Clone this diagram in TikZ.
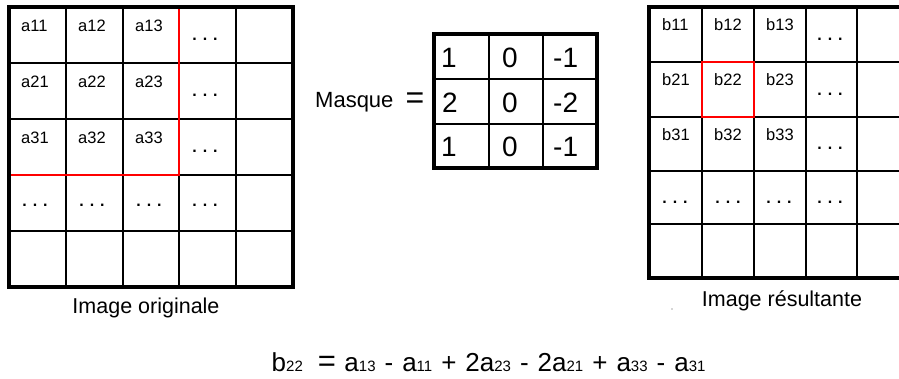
\documentclass[tikz,border=0pt]{standalone}
\usepackage{fontspec}
\setmainfont{Liberation Sans}
\newcommand\sbs[1]{{\fontsize{15}{17}\selectfont #1}}
\begin{document}
\begin{tikzpicture}[x=1pt,y=-1pt,
  thinl/.style={line width=1.4pt, draw=black},
  frame/.style={line width=3.4pt, draw=black},
  redl/.style={line width=1.5pt, draw=red},
  cell/.style={anchor=base west, inner sep=0pt, font=\fontsize{16.5}{18}\selectfont},
  dotsn/.style={anchor=center, inner sep=0pt, font=\bfseries\fontsize{16}{18}\selectfont},
  masknum/.style={anchor=base west, inner sep=0pt, font=\fontsize{28}{30}\selectfont},
  caption/.style={anchor=base, inner sep=0pt, font=\fontsize{21.5}{24}\selectfont}]
\useasboundingbox (0,0) rectangle (899,378);
\begin{scope}
\clip (0,0) rectangle (899,378);
% ---------- left grid ----------
\foreach \x in {66,123,179,236} \draw[thinl] (\x,7) -- (\x,287);
\foreach \y in {63,119,175,231} \draw[thinl] (9,\y) -- (293,\y);
\draw[redl] (179,7) -- (179,175) -- (9,175);
\draw[frame] (9,7) rectangle (293,287);
% ---------- mask ----------
\foreach \x in {489,543} \draw[thinl] (\x,34) -- (\x,168);
\foreach \y in {79,124} \draw[thinl] (434,\y) -- (597,\y);
\draw[frame] (434,34) rectangle (597,168);
% ---------- right grid ----------
\foreach \x in {702,754,806,857} \draw[thinl] (\x,7) -- (\x,278);
\foreach \y in {62,117,171,224} \draw[thinl] (649,\y) -- (912,\y);
\draw[redl] (702,62) rectangle (754,117);
\draw[frame] (649,7) rectangle (912,278);
\end{scope}
% left labels
\node[cell] (a11) at (21,31) {a11};
\node[cell] (a12) at (78,31) {a12};
\node[cell] (a13) at (135,31) {a13};
\node[cell] (a21) at (21,87) {a21};
\node[cell] (a22) at (78,87) {a22};
\node[cell] (a23) at (135,87) {a23};
\node[cell] (a31) at (21,143) {a31};
\node[cell] (a32) at (78,143) {a32};
\node[cell] (a33) at (135,143) {a33};
\node[dotsn] (ld1) at (205,39) {. . .};
\node[dotsn] (ld2) at (205,95) {. . .};
\node[dotsn] (ld3) at (205,151) {. . .};
\node[dotsn] (ld4) at (35,205) {. . .};
\node[dotsn] (ld5) at (92,205) {. . .};
\node[dotsn] (ld6) at (149,205) {. . .};
\node[dotsn] (ld7) at (205,205) {. . .};
% mask
\node[anchor=base west, inner sep=0pt, font=\fontsize{22}{24}\selectfont] (masque) at (315,107) {Masque};
\node[anchor=center, inner sep=0pt, font=\fontsize{32}{34}\selectfont] (eq) at (415,101) {=};
\node[masknum] (m11) at (441,67) {1};
\node[masknum] (m12) at (502,67) {0};
\node[masknum] (m13) at (553,67) {-1};
\node[masknum] (m21) at (442,112) {2};
\node[masknum] (m22) at (502,112) {0};
\node[masknum] (m23) at (553,112) {-2};
\node[masknum] (m31) at (441,156) {1};
\node[masknum] (m32) at (502,156) {0};
\node[masknum] (m33) at (553,156) {-1};
% right labels
\node[cell] (b11) at (662,30) {b11};
\node[cell] (b12) at (714,30) {b12};
\node[cell] (b13) at (766,30) {b13};
\node[cell] (b21) at (662,85) {b21};
\node[cell] (b22) at (714,85) {b22};
\node[cell] (b23) at (766,85) {b23};
\node[cell] (b31) at (662,140) {b31};
\node[cell] (b32) at (714,140) {b32};
\node[cell] (b33) at (766,140) {b33};
\node[dotsn] (rd1) at (830,39) {. . .};
\node[dotsn] (rd2) at (830,94) {. . .};
\node[dotsn] (rd3) at (830,148) {. . .};
\node[dotsn] (rd4) at (675,202) {. . .};
\node[dotsn] (rd5) at (728,202) {. . .};
\node[dotsn] (rd6) at (779,202) {. . .};
\node[dotsn] (rd7) at (830,202) {. . .};
% captions
\node[caption] (capl) at (146,313) {Image originale};
\node[caption] (capr) at (782,306) {Image résultante};
\fill[black!70] (672,309) circle (0.6);
% formula
\node[anchor=base west, inner sep=0pt, font=\fontsize{26}{30}\selectfont] (formula) at (271.5,371)
 {b\sbs{22}\hspace{15pt}{\fontsize{31}{32}\selectfont =}\hspace{8.5pt}a\sbs{13}\hspace{9pt}-\hspace{9pt}a\sbs{11}\hspace{9pt}+\hspace{9pt}2a\sbs{23}\hspace{9pt}-\hspace{9pt}2a\sbs{21}\hspace{9pt}+\hspace{9pt}a\sbs{33}\hspace{9pt}-\hspace{9pt}a\sbs{31}};
\end{tikzpicture}
\end{document}
